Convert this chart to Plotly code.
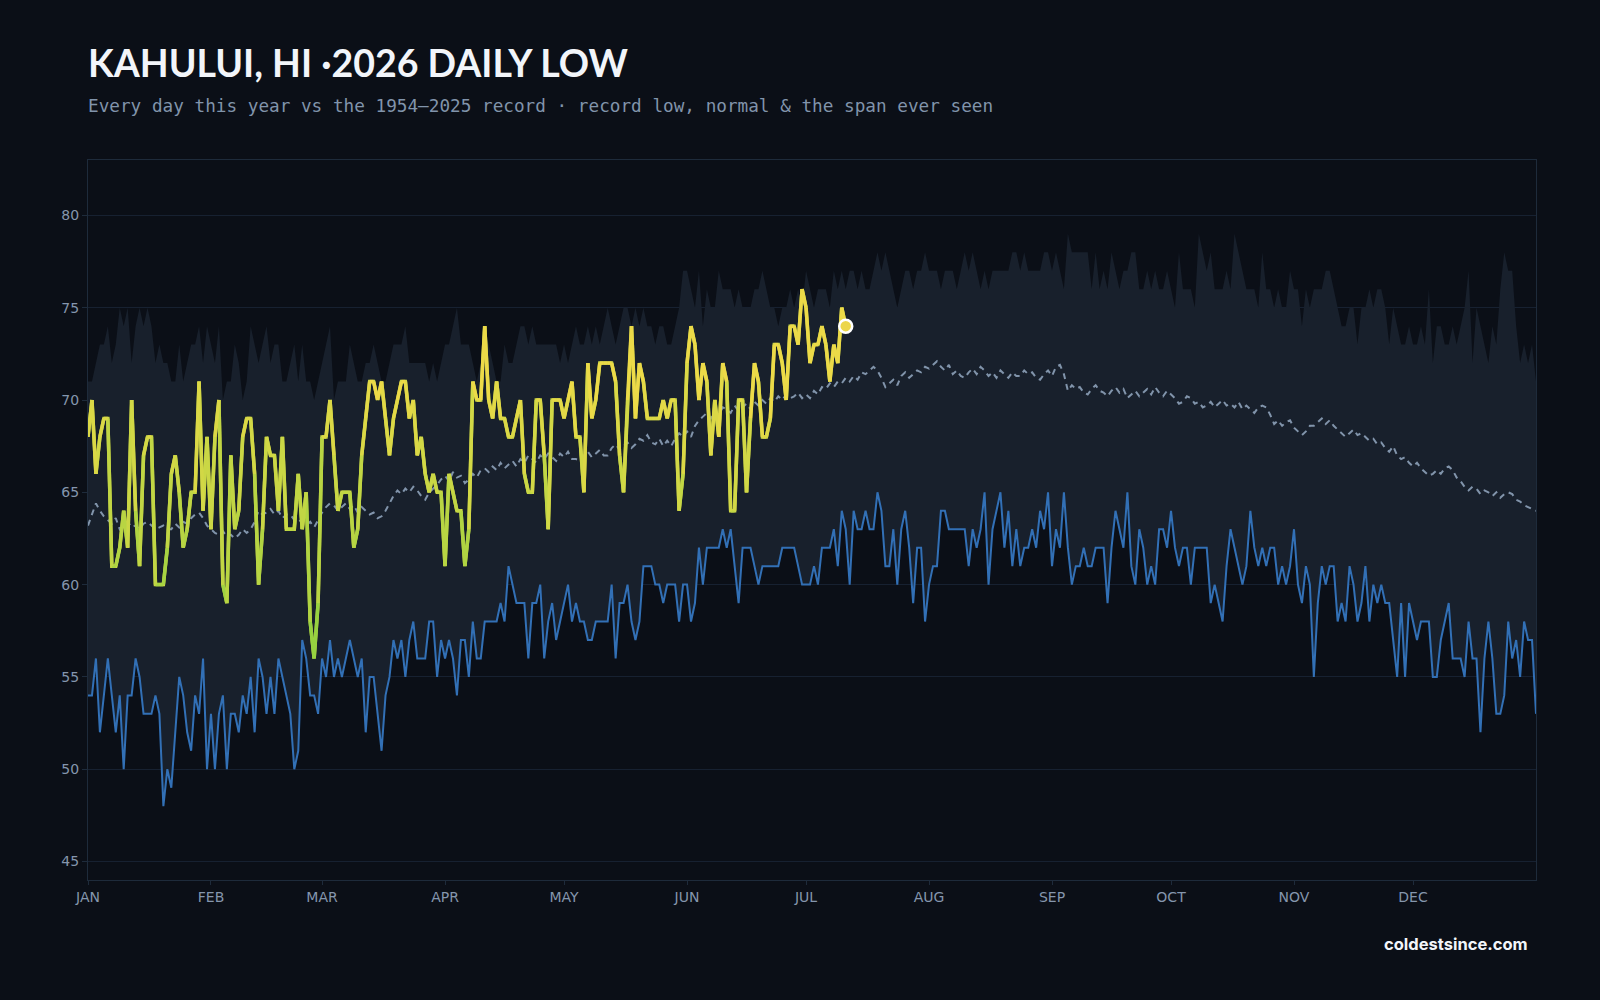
import plotly.graph_objects as go

# ---------------- data ----------------
MONTH_STARTS = [0, 31, 59, 90, 120, 151, 181, 212, 243, 273, 304, 334]
MONTH_LABELS = ["JAN", "FEB", "MAR", "APR", "MAY", "JUN", "JUL", "AUG", "SEP", "OCT", "NOV", "DEC"]

record_low = [
    54, 54, 56, 52, 54, 56, 54, 52, 54, 50,
    54, 54, 56, 55, 53, 53, 53, 54, 53, 48,
    50, 49, 52, 55, 54, 52, 51, 54, 53, 56,
    50, 53, 50, 53, 54, 50, 53, 53, 52, 54,
    53, 55, 52, 56, 55, 53, 55, 53, 56, 55,
    54, 53, 50, 51, 57, 56, 54, 54, 53, 56,
    55, 57, 55, 56, 55, 56, 57, 56, 55, 56,
    52, 55, 55, 53, 51, 54, 55, 57, 56, 57,
    55, 57, 58, 56, 56, 56, 58, 58, 55, 57,
    56, 57, 56, 54, 57, 57, 55, 58, 56, 56,
    58, 58, 58, 58, 59, 58, 61, 60, 59, 59,
    59, 56, 59, 59, 60, 56, 58, 59, 57, 58,
    59, 60, 58, 59, 58, 58, 57, 57, 58, 58,
    58, 58, 60, 56, 59, 59, 60, 58, 57, 58,
    61, 61, 61, 60, 60, 59, 60, 60, 60, 58,
    60, 60, 58, 59, 62, 60, 62, 62, 62, 62,
    63, 62, 63, 61, 59, 62, 62, 62, 61, 60,
    61, 61, 61, 61, 61, 62, 62, 62, 62, 61,
    60, 60, 60, 61, 60, 62, 62, 62, 63, 61,
    64, 63, 60, 64, 63, 63, 64, 63, 63, 65,
    64, 61, 61, 63, 60, 63, 64, 62, 59, 62,
    62, 58, 60, 61, 61, 64, 64, 63, 63, 63,
    63, 63, 61, 63, 62, 63, 65, 60, 63, 64,
    65, 62, 64, 61, 63, 61, 62, 62, 63, 62,
    64, 63, 65, 61, 63, 62, 65, 62, 60, 61,
    61, 62, 61, 61, 62, 62, 62, 59, 62, 64,
    63, 62, 65, 61, 60, 63, 62, 60, 61, 60,
    63, 63, 62, 64, 62, 61, 62, 62, 60, 62,
    62, 62, 62, 59, 60, 59, 58, 61, 63, 62,
    61, 60, 61, 64, 62, 61, 62, 61, 62, 62,
    60, 61, 60, 61, 63, 60, 59, 61, 60, 55,
    59, 61, 60, 61, 61, 58, 59, 58, 61, 60,
    58, 59, 61, 58, 60, 59, 60, 59, 59, 57,
    55, 59, 55, 59, 58, 57, 58, 58, 58, 55,
    55, 57, 58, 59, 56, 56, 56, 55, 58, 56,
    56, 52, 56, 58, 56, 53, 53, 54, 58, 56,
    57, 55, 58, 57, 57, 53,
]

record_high = [
    71, 71, 72, 73, 73, 74, 72, 73, 75, 74,
    75, 72, 74, 75, 74, 75, 74, 72, 73, 72,
    72, 71, 71, 73, 71, 72, 73, 73, 74, 72,
    74, 73, 72, 74, 70, 71, 71, 73, 72, 70,
    71, 74, 73, 72, 73, 74, 72, 73, 73, 71,
    71, 72, 73, 71, 73, 71, 71, 70, 71, 72,
    73, 74, 70, 71, 71, 71, 73, 72, 71, 71,
    72, 72, 73, 72, 71, 71, 72, 73, 73, 73,
    74, 72, 72, 72, 72, 72, 71, 72, 71, 72,
    73, 73, 74, 75, 73, 73, 73, 72, 71, 72,
    74, 73, 72, 71, 71, 73, 72, 72, 73, 74,
    74, 73, 74, 73, 73, 73, 73, 73, 73, 72,
    73, 72, 73, 74, 73, 73, 74, 73, 74, 73,
    74, 75, 74, 73, 74, 75, 75, 74, 75, 74,
    75, 74, 74, 73, 74, 74, 73, 73, 74, 75,
    77, 77, 76, 75, 77, 74, 76, 75, 75, 77,
    76, 76, 76, 75, 76, 75, 75, 75, 76, 76,
    77, 76, 75, 75, 74, 75, 75, 76, 75, 76,
    75, 77, 76, 75, 76, 76, 76, 75, 77, 76,
    77, 76, 77, 77, 76, 77, 76, 76, 77, 78,
    77, 78, 77, 76, 75, 76, 77, 77, 76, 77,
    77, 78, 77, 77, 77, 76, 77, 77, 77, 76,
    77, 78, 77, 78, 77, 76, 77, 76, 77, 77,
    77, 77, 77, 78, 78, 77, 78, 77, 77, 77,
    77, 78, 78, 77, 78, 77, 76, 79, 78, 78,
    78, 78, 78, 76, 78, 76, 77, 76, 78, 77,
    76, 77, 77, 78, 78, 76, 76, 77, 76, 77,
    76, 76, 77, 76, 75, 78, 76, 76, 76, 75,
    79, 78, 77, 78, 76, 76, 76, 77, 76, 79,
    78, 77, 76, 76, 76, 75, 78, 76, 76, 75,
    76, 75, 75, 77, 76, 76, 74, 76, 75, 76,
    76, 76, 77, 77, 76, 75, 74, 74, 75, 75,
    73, 75, 75, 76, 75, 76, 76, 75, 73, 75,
    74, 73, 73, 74, 73, 73, 74, 73, 76, 72,
    74, 74, 73, 73, 74, 73, 74, 75, 77, 72,
    75, 74, 73, 72, 74, 73, 76, 78, 77, 77,
    74, 72, 73, 72, 73, 71,
]

normal = [
    63.2, 63.8, 64.4, 64.0, 63.7, 63.5, 63.3, 63.6, 63.0, 63.2,
    63.4, 63.1, 63.2, 63.0, 63.3, 63.4, 63.2, 63.0, 63.1, 63.2,
    63.0, 63.0, 63.3, 63.1, 63.4, 63.3, 63.6, 63.8, 63.9, 63.6,
    63.2, 63.0, 62.8, 62.7, 62.9, 62.6, 62.7, 62.5, 62.7, 63.0,
    62.8, 63.0, 63.4, 64.0, 63.8, 63.9, 64.1, 63.8, 64.0, 63.6,
    63.8, 63.8, 63.5, 63.6, 63.3, 63.2, 63.4, 63.1, 63.5, 63.9,
    64.2, 64.4, 64.3, 64.0, 64.2, 64.4, 64.1, 64.3, 63.9, 64.2,
    64.0, 63.8, 63.9, 63.6, 63.7, 64.0, 64.4, 64.8, 65.1, 64.9,
    65.2, 65.0, 65.3, 65.1, 64.8, 64.6, 65.0, 65.2, 65.4, 65.7,
    65.9, 65.6, 66.1, 65.8, 65.9, 65.5, 65.7, 66.0, 65.8, 66.2,
    66.3, 66.1, 66.4, 66.2, 66.6, 66.3, 66.5, 66.7, 66.4, 66.8,
    66.6, 67.0, 66.8, 66.6, 67.0, 66.8, 67.1, 66.9, 66.7, 67.1,
    66.9, 67.2, 66.8, 66.8, 66.7, 67.0, 67.2, 66.9, 67.1, 67.3,
    67.0, 67.0, 67.4, 67.6, 67.3, 67.5, 67.7, 67.4, 67.6, 67.9,
    67.8, 68.1, 67.7, 67.6, 67.9, 67.5, 67.8, 67.5, 67.9, 68.2,
    68.0, 68.3, 68.0, 68.6, 68.9, 69.1, 69.3, 69.0, 69.4, 69.2,
    69.6, 69.5, 69.3, 69.7, 69.4, 69.6, 69.8, 69.5, 69.9, 69.7,
    70.0, 69.8, 70.1, 69.9, 70.2, 70.0, 70.3, 70.1, 70.2, 70.4,
    70.1, 70.3, 70.1, 70.5, 70.3, 70.7, 70.6, 70.9, 70.7, 71.0,
    70.9, 71.2, 71.0, 71.3, 71.1, 71.5, 71.4, 71.6, 71.8, 71.6,
    71.2, 70.7, 70.9, 71.1, 70.8, 71.3, 71.5, 71.2, 71.4, 71.6,
    71.5, 71.8, 71.7, 71.9, 72.1, 71.8, 71.6, 71.9, 71.4, 71.6,
    71.3, 71.2, 71.5, 71.7, 71.4, 71.8, 71.6, 71.3, 71.5, 71.2,
    71.6, 71.4, 71.2, 71.5, 71.3, 71.3, 71.6, 71.4, 71.5, 71.2,
    71.1, 71.4, 71.6, 71.3, 71.8, 71.9, 71.4, 70.5, 70.8, 70.6,
    70.7, 70.4, 70.3, 70.6, 70.8, 70.5, 70.4, 70.2, 70.5, 70.7,
    70.4, 70.6, 70.1, 70.3, 70.5, 70.2, 70.4, 70.6, 70.3, 70.7,
    70.4, 70.2, 70.5, 70.3, 70.1, 69.8, 69.9, 70.2, 70.1, 69.8,
    69.9, 69.6, 69.7, 69.9, 69.6, 69.8, 70.0, 69.7, 69.8, 69.6,
    69.9, 69.5, 69.7, 69.5, 69.3, 69.6, 69.7, 69.6, 69.2, 68.7,
    68.9, 68.6, 68.8, 68.9, 68.5, 68.3, 68.1, 68.3, 68.6, 68.6,
    68.8, 69.0, 68.7, 68.9, 68.6, 68.4, 68.2, 68.0, 68.2, 68.4,
    68.1, 68.2, 68.0, 67.8, 67.9, 67.6, 67.7, 67.4, 67.2, 67.5,
    67.0, 66.8, 66.9, 66.6, 66.4, 66.6, 66.3, 66.1, 65.9, 66.0,
    66.2, 66.0, 66.3, 66.4, 66.2, 65.8, 65.6, 65.3, 65.1, 65.3,
    65.2, 64.9, 65.1, 65.0, 64.8, 65.0, 64.7, 64.9, 65.0, 64.9,
    64.6, 64.5, 64.3, 64.2, 64.1, 64.0,
]

this_year = [
    68, 70, 66, 68, 69, 69, 61, 61, 62, 64,
    62, 70, 64, 61, 67, 68, 68, 60, 60, 60,
    62, 66, 67, 65, 62, 63, 65, 65, 71, 64,
    68, 63, 68, 70, 60, 59, 67, 63, 64, 68,
    69, 69, 66, 60, 63, 68, 67, 67, 64, 68,
    63, 63, 63, 66, 63, 65, 58, 56, 59, 68,
    68, 70, 67, 64, 65, 65, 65, 62, 63, 67,
    69, 71, 71, 70, 71, 69, 67, 69, 70, 71,
    71, 69, 70, 67, 68, 66, 65, 66, 65, 65,
    61, 66, 65, 64, 64, 61, 63, 71, 70, 70,
    74, 70, 69, 71, 69, 69, 68, 68, 69, 70,
    66, 65, 65, 70, 70, 67, 63, 70, 70, 70,
    69, 70, 71, 68, 68, 65, 72, 69, 70, 72,
    72, 72, 72, 71, 67, 65, 70, 74, 69, 72,
    71, 69, 69, 69, 69, 70, 69, 70, 70, 64,
    66, 72, 74, 73, 70, 72, 71, 67, 70, 68,
    72, 71, 64, 64, 70, 70, 65, 69, 72, 71,
    68, 68, 69, 73, 73, 72, 70, 74, 74, 73,
    76, 75, 72, 73, 73, 74, 73, 71, 73, 72,
    75, 74,
]

# ---------------- styling ----------------
BG = "#0b0f17"
BAND = "#18202c"
GRID = "#172131"
AXIS = "#1e2b3b"
TICK = "#8596ad"
BLUE = "#3270b6"
NORMAL_C = "#8194ab"
GREEN = (150, 210, 64)
YELLOW = (236, 218, 72)

days = list(range(len(record_low)))
days_ty = list(range(len(this_year)))


def mix(v):
    t = (v - 58.0) / (71.0 - 58.0)
    t = max(0.0, min(1.0, t))
    r, g, b = (round(GREEN[i] + (YELLOW[i] - GREEN[i]) * t) for i in range(3))
    return f"rgb({r},{g},{b})"


fig = go.Figure()

# band: record low -> record high
fig.add_trace(go.Scatter(x=days, y=record_low, mode="lines", line=dict(width=0),
                         hoverinfo="skip", showlegend=False))
fig.add_trace(go.Scatter(x=days, y=record_high, mode="lines", line=dict(width=0),
                         fill="tonexty", fillcolor=BAND, hoverinfo="skip", showlegend=False))

# normal (dashed)
fig.add_trace(go.Scatter(x=days, y=normal, mode="lines",
                         line=dict(color=NORMAL_C, width=2, dash="6px,5px"),
                         hoverinfo="skip", showlegend=False))

# record low line
fig.add_trace(go.Scatter(x=days, y=record_low, mode="lines",
                         line=dict(color=BLUE, width=2),
                         hoverinfo="skip", showlegend=False))

# this year: base line then value-coloured segments
fig.add_trace(go.Scatter(x=days_ty, y=this_year, mode="lines",
                         line=dict(color=mix(66), width=3.5),
                         hoverinfo="skip", showlegend=False))
NB = 10
buckets = {}
for i in range(len(this_year) - 1):
    v = (this_year[i] + this_year[i + 1]) / 2.0
    t = max(0.0, min(1.0, (v - 58.0) / 13.0))
    k = round(t * NB)
    buckets.setdefault(k, ([], []))
    xs, ys = buckets[k]
    xs += [days_ty[i], days_ty[i + 1], None]
    ys += [this_year[i], this_year[i + 1], None]
for k, (xs, ys) in sorted(buckets.items()):
    col = mix(58.0 + 13.0 * k / NB)
    fig.add_trace(go.Scatter(x=xs, y=ys, mode="lines",
                             line=dict(color=col, width=3.5),
                             hoverinfo="skip", showlegend=False, connectgaps=False))

# latest point marker
fig.add_trace(go.Scatter(x=[days_ty[-1]], y=[this_year[-1]], mode="markers",
                         marker=dict(color="#ecd64a", size=13, line=dict(color="#ffffff", width=2.5)),
                         hoverinfo="skip", showlegend=False))

fig.update_layout(
    width=1600, height=1000,
    paper_bgcolor=BG, plot_bgcolor=BG,
    margin=dict(l=88, r=64, t=160, b=120),
    showlegend=False,
    xaxis=dict(range=[0, 365], tickvals=MONTH_STARTS, ticktext=MONTH_LABELS,
               showgrid=False, zeroline=False,
               showline=True, linecolor=AXIS, linewidth=1, mirror=True,
               ticks="outside", ticklen=4, tickcolor=AXIS,
               tickfont=dict(family="DejaVu Sans, sans-serif", size=14, color=TICK)),
    yaxis=dict(range=[44, 83], tickvals=[45, 50, 55, 60, 65, 70, 75, 80],
               showgrid=True, gridcolor=GRID, gridwidth=1, zeroline=False,
               showline=True, linecolor=AXIS, linewidth=1, mirror=True,
               ticks="outside", ticklen=5, tickcolor=AXIS,
               tickfont=dict(family="DejaVu Sans, sans-serif", size=14, color=TICK)),
    annotations=[
        dict(text="<b>KAHULUI, HI ·2026 DAILY LOW</b>", xref="paper", yref="paper",
             x=0, y=1, xanchor="left", yanchor="bottom", yshift=73, xshift=-2,
             showarrow=False,
             font=dict(family="Lato, Inter, sans-serif", size=37.5, color="#f2f5fa")),
        dict(text="Every day this year vs the 1954–2025 record · record low, normal & the span ever seen",
             xref="paper", yref="paper", x=0, y=1, xanchor="left", yanchor="bottom",
             yshift=42, xshift=-2, showarrow=False,
             font=dict(family="DejaVu Sans Mono, monospace", size=17.7, color="#8194ab")),
        dict(text="<b>coldestsince.com</b>", xref="paper", yref="paper",
             x=1, y=0, xanchor="right", yanchor="top", yshift=-52, xshift=-6,
             showarrow=False,
             font=dict(family="Inter, Noto Sans, sans-serif", size=16.5, color="#f2f5fa")),
    ],
)

fig.write_html("out.html")
